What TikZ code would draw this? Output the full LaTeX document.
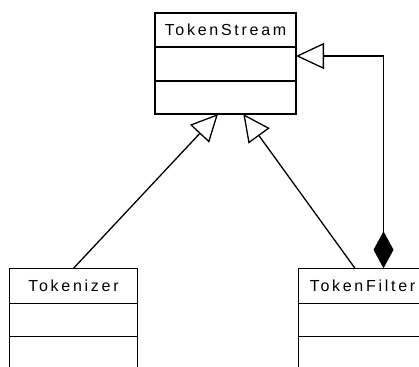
\documentclass[tikz,border=0pt]{standalone}
\usepackage{fontspec}
\setmainfont{Liberation Sans}[LetterSpace=17]
\usetikzlibrary{arrows.meta}
\begin{document}
\begin{tikzpicture}[x=1pt, y=-1pt, line width=1.3pt,
  part/.style={draw, rectangle, anchor=north west, inner sep=0pt, outer sep=0pt,
               font=\fontsize{16pt}{19pt}\selectfont},
  gen/.style={-{Triangle[open, length=27pt, width=26pt]}},
  aggr/.style={{Diamond[length=37pt, width=20pt]}-{Triangle[open, length=28pt, width=26pt]}}]
  % canvas
  \fill[white] (0,0) rectangle (419,366);
  \useasboundingbox (0,0) rectangle (419,366);
  \clip (0,0) rectangle (419,366);

  % TokenStream class
  \node[part, minimum width=141pt, minimum height=34pt] (ts) at (155,13) {TokenStream};
  \node[part, minimum width=141pt, minimum height=34pt] (ts-attr) at (ts.south west) {};
  \node[part, minimum width=141pt, minimum height=33pt] (ts-ops) at (ts-attr.south west) {};

  % Tokenizer class
  \node[part, minimum width=128.4pt, minimum height=35pt] (tk) at (9.3,268.3) {Tokenizer};
  \node[part, minimum width=128.4pt, minimum height=33.4pt] (tk-attr) at (tk.south west) {};
  \node[part, minimum width=128.4pt, minimum height=40pt] (tk-ops) at (tk-attr.south west) {};

  % TokenFilter class
  \node[part, minimum width=128.4pt, minimum height=35pt] (tf) at (298.3,268.3) {TokenFilter};
  \node[part, minimum width=128.4pt, minimum height=33.4pt] (tf-attr) at (tf.south west) {};
  \node[part, minimum width=128.4pt, minimum height=40pt] (tf-ops) at (tf-attr.south west) {};

  % generalizations
  \draw[gen] (tk.north) -- ([xshift=-7.5pt]ts-ops.south);
  \draw[gen] ([xshift=-7.5pt]tf.north) -- ([xshift=17.8pt]ts-ops.south);

  % TokenFilter wraps a TokenStream
  \draw[aggr] ([xshift=21pt]tf.north) |- ([yshift=8pt]ts-attr.east);
\end{tikzpicture}
\end{document}
